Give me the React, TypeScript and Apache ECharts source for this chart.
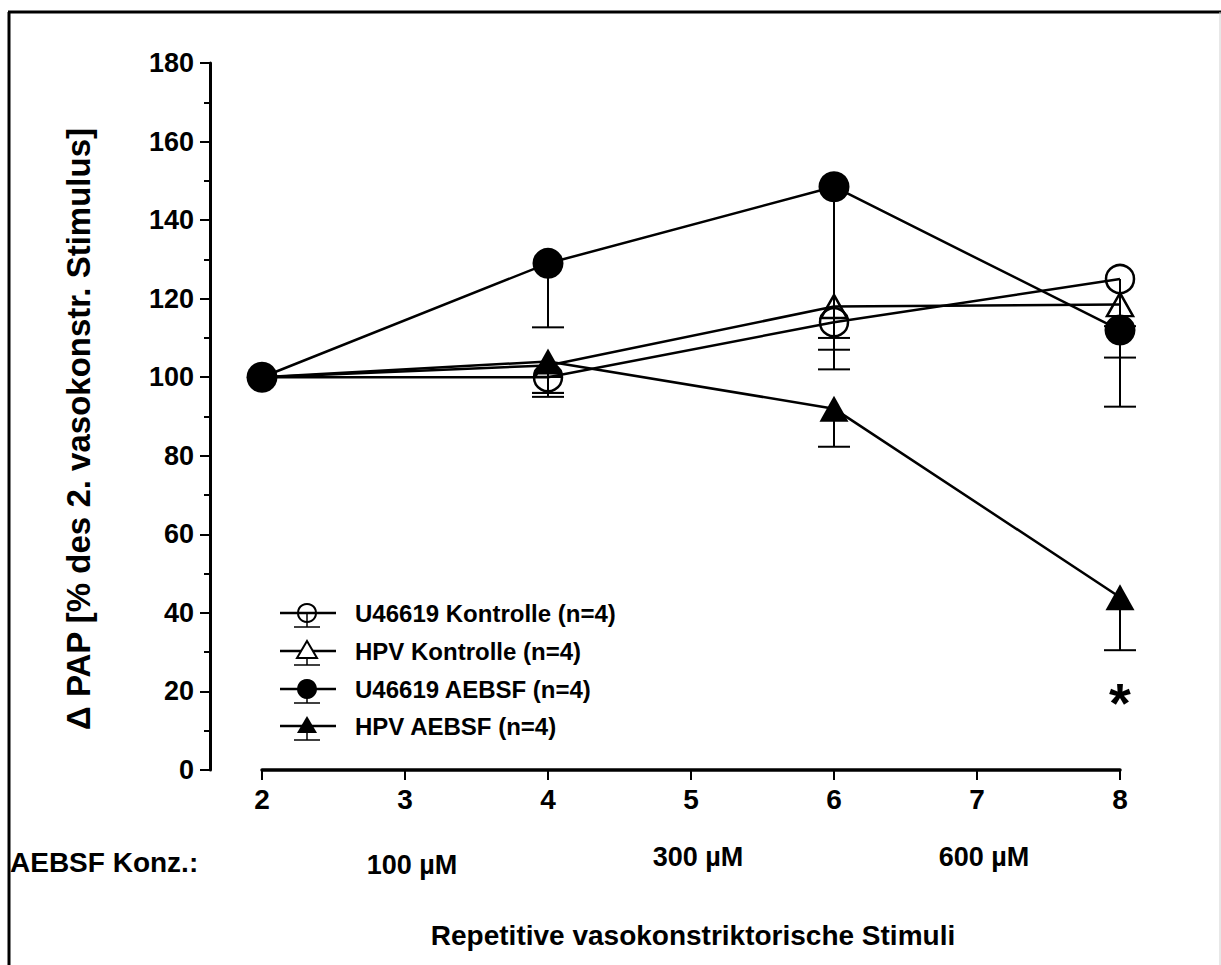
import React, { useEffect, useRef } from "react";
import * as echarts from "echarts";

const stimuli = [2, 4, 6, 8];
const u46619Kontrolle = [100, 100, 114, 125];
const hpvKontrolle = [100, 103, 118, 118.5];
const u46619Aebsf = [100, 129, 148.5, 112];
const hpvAebsf = [100, 104, 92, 44];

const u46619KontrolleLow = [null, 95, 107, 105];
const hpvKontrolleLow = [null, 96, 110, 113];
const u46619AebsfLow = [null, 112.7, 102, 92.5];
const hpvAebsfLow = [null, 96, 82.3, 30.5];

const seriesNames = [
  "U46619 Kontrolle (n=4)",
  "HPV Kontrolle (n=4)",
  "U46619 AEBSF (n=4)",
  "HPV AEBSF (n=4)",
];
const concPositions = [3, 5, 7];
const concLabels = ["100 µM", "300 µM", "600 µM"];
const significance = [{ x: 8, y: 19.6, label: "*" }];

const FONT = "'Liberation Sans', Arial, sans-serif";

const GRID_LEFT = 262;
const GRID_RIGHT = 101;
const GRID_TOP = 63;
const GRID_BOTTOM = 195;
const PX_PER_X = (1221 - GRID_LEFT - GRID_RIGHT) / 6;

function errData(means: number[], lows: (number | null)[]) {
  const out: number[][] = [];
  stimuli.forEach((x, i) => {
    const lo = lows[i];
    if (lo !== null) out.push([x, means[i], lo]);
  });
  return out;
}

function legendItem(i: number, y: number, kind: string) {
  const cx = 307;
  const children: any[] = [
    { type: "line", shape: { x1: cx, y1: y, x2: cx, y2: y + 14 }, style: { stroke: "#000", lineWidth: 1.5 } },
    { type: "line", shape: { x1: cx - 13, y1: y + 14, x2: cx + 13, y2: y + 14 }, style: { stroke: "#000", lineWidth: 1.5 } },
    { type: "line", shape: { x1: 280, y1: y, x2: 336, y2: y }, style: { stroke: "#000", lineWidth: 2.5 } },
  ];
  if (kind === "openCircle") {
    children.push({ type: "circle", shape: { cx, cy: y, r: 9 }, style: { fill: "none", stroke: "#000", lineWidth: 2 } });
  } else if (kind === "filledCircle") {
    children.push({ type: "circle", shape: { cx, cy: y, r: 10 }, style: { fill: "#000" } });
  } else {
    children.push({
      type: "polygon",
      shape: { points: [[cx, y - 10], [cx + 10, y + 7], [cx - 10, y + 7]] },
      style: kind === "openTri" ? { fill: "#fff", stroke: "#000", lineWidth: 2 } : { fill: "#000" },
    });
  }
  children.push({
    type: "text",
    x: 355,
    y,
    style: { text: seriesNames[i], font: `bold 24px ${FONT}`, fill: "#000", align: "left", verticalAlign: "middle" },
  });
  return { type: "group", children };
}

export default function App() {
  const ref = useRef<HTMLDivElement>(null);

  useEffect(() => {
    if (!ref.current) return;
    const chart = echarts.init(ref.current, null, { renderer: "svg" });

    const lineStyle = { color: "#000", width: 2.5 };
    const errRender = (params: any, api: any) => {
      const x = api.value(0);
      const p = api.coord([x, api.value(1)]);
      const l = api.coord([x, api.value(2)]);
      return {
        type: "group",
        children: [
          { type: "line", shape: { x1: p[0], y1: p[1], x2: l[0], y2: l[1] }, style: { stroke: "#000", lineWidth: 2 } },
          { type: "line", shape: { x1: l[0] - 16, y1: l[1], x2: l[0] + 16, y2: l[1] }, style: { stroke: "#000", lineWidth: 2 } },
        ],
      };
    };
    const errSeries = (name: string, means: number[], lows: (number | null)[]) => ({
      type: "custom",
      name: name + " SEM",
      renderItem: errRender,
      data: errData(means, lows),
      encode: { x: 0, y: [1, 2] },
      clip: false,
      z: 1,
    });
    // the shared baseline point (x=2) is only drawn once, by the top-most series
    const lineSeries = (
      name: string,
      values: number[],
      symbol: string,
      size: any,
      filled: boolean,
      z: number,
      hideFirst: boolean
    ) => ({
      type: "line",
      name,
      data: stimuli.map((x, i) =>
        hideFirst && i === 0 ? { value: [x, values[i]], symbol: "none" } : { value: [x, values[i]] }
      ),
      symbol,
      symbolSize: size,
      showAllSymbol: true,
      lineStyle,
      itemStyle: filled
        ? { color: "#000", borderColor: "#000", borderWidth: 0 }
        : { color: "rgba(0,0,0,0)", borderColor: "#000", borderWidth: 2.5 },
      emphasis: { disabled: true },
      z,
    });

    const rowY = [613, 651, 689, 726];
    const kinds = ["openCircle", "openTri", "filledCircle", "filledTri"];

    const graphics: any[] = [
      { type: "line", shape: { x1: 9, y1: 12, x2: 9, y2: 965 }, style: { stroke: "#000", lineWidth: 3 } },
      { type: "line", shape: { x1: 8, y1: 12, x2: 1221, y2: 12 }, style: { stroke: "#000", lineWidth: 3 } },
      { type: "line", shape: { x1: 1220, y1: 12, x2: 1220, y2: 965 }, style: { stroke: "#d0d0d0", lineWidth: 1 } },
      {
        type: "text",
        x: 78,
        y: 429,
        rotation: Math.PI / 2,
        style: {
          text: "Δ PAP [% des 2. vasokonstr. Stimulus]",
          font: `bold 33px ${FONT}`,
          fill: "#000",
          align: "center",
          verticalAlign: "middle",
        },
      },
      {
        type: "text",
        x: 10,
        y: 862,
        style: { text: "AEBSF Konz.:", font: `bold 28px ${FONT}`, fill: "#000", align: "left", verticalAlign: "middle" },
      },
      {
        type: "text",
        x: 693,
        y: 935,
        style: {
          text: "Repetitive vasokonstriktorische Stimuli",
          font: `bold 28px ${FONT}`,
          fill: "#000",
          align: "center",
          verticalAlign: "middle",
        },
      },
    ];
    const concY = [865, 857, 857];
    concPositions.forEach((v, i) => {
      graphics.push({
        type: "text",
        x: GRID_LEFT + (v - 2) * PX_PER_X + 7,
        y: concY[i],
        style: { text: concLabels[i], font: `bold 27px ${FONT}`, fill: "#000", align: "center", verticalAlign: "middle" },
      });
    });
    kinds.forEach((k, i) => graphics.push(legendItem(i, rowY[i], k)));

    chart.setOption({
      animation: false,
      backgroundColor: "#fff",
      grid: { left: GRID_LEFT, right: GRID_RIGHT, top: GRID_TOP, bottom: GRID_BOTTOM },
      xAxis: {
        type: "value",
        min: 2,
        max: 8,
        interval: 1,
        axisLine: { show: true, onZero: false, lineStyle: { color: "#000", width: 3.5 } },
        axisTick: { show: true, length: 10, lineStyle: { color: "#000", width: 2 } },
        axisLabel: { color: "#000", fontSize: 28, fontWeight: "bold", fontFamily: FONT, margin: 15 },
        splitLine: { show: false },
      },
      yAxis: {
        type: "value",
        min: 0,
        max: 180,
        interval: 20,
        offset: 52,
        axisLine: { show: true, lineStyle: { color: "#000", width: 3 } },
        axisTick: { show: true, length: 10, lineStyle: { color: "#000", width: 2 } },
        minorTick: { show: true, splitNumber: 2, length: 6, lineStyle: { color: "#000", width: 2 } },
        axisLabel: { color: "#000", fontSize: 27, fontWeight: "bold", fontFamily: FONT, margin: 16 },
        splitLine: { show: false },
      },
      graphic: graphics,
      series: [
        errSeries(seriesNames[0], u46619Kontrolle, u46619KontrolleLow),
        errSeries(seriesNames[1], hpvKontrolle, hpvKontrolleLow),
        errSeries(seriesNames[2], u46619Aebsf, u46619AebsfLow),
        errSeries(seriesNames[3], hpvAebsf, hpvAebsfLow),
        lineSeries(seriesNames[0], u46619Kontrolle, "circle", 28, false, 3, true),
        lineSeries(seriesNames[1], hpvKontrolle, "triangle", [26, 23], false, 3, true),
        lineSeries(seriesNames[3], hpvAebsf, "triangle", [29, 26], true, 3, true),
        lineSeries(seriesNames[2], u46619Aebsf, "circle", 31, true, 4, false),
        {
          type: "scatter",
          name: "Signifikanz",
          data: significance.map((s) => [s.x, s.y]),
          symbol: "circle",
          symbolSize: 0.5,
          itemStyle: { color: "#fff", opacity: 1 },
          emphasis: { disabled: true },
          label: {
            show: true,
            position: "inside",
            formatter: () => significance[0].label,
            color: "#000",
            opacity: 1,
            textBorderWidth: 0,
            fontSize: 56,
            fontWeight: "bold",
            fontFamily: FONT,
            offset: [0, 9],
          },
          z: 5,
        },
      ],
    });

    return () => chart.dispose();
  }, []);

  return (
    <div
      ref={ref}
      style={{ position: "absolute", left: 0, top: 0, width: 1221, height: 965, background: "#fff" }}
    />
  );
}
